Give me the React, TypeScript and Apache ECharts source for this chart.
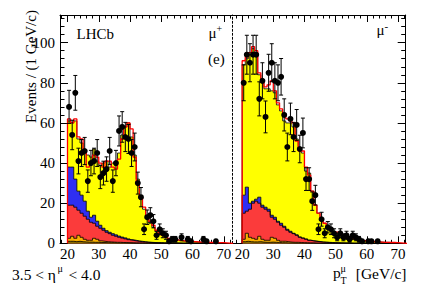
import React, { useEffect, useRef } from "react";
import * as echarts from "echarts";

const SERIF = "Liberation Serif, DejaVu Serif, serif";

// lower edges of the 1 GeV/c bins
const binLow = [20, 21, 22, 23, 24, 25, 26, 27, 28, 29, 30, 31, 32, 33, 34, 35, 36, 37, 38, 39, 40, 41, 42, 43, 44, 45, 46, 47, 48, 49, 50, 51, 52, 53, 54, 55, 56, 57, 58, 59, 60, 61, 62, 63, 64, 65, 66, 67, 68, 69];
const binWidth = 1;

// ---------- mu+ panel ----------
const muPlusData = [68, 54, 75, 41, 45, 46, 31, 40, 41, 45, 33, 35, 37, 46, 31, 40, 56, 58, 53, 52, 45, 48, 30, 23, 7, 13, 14, 11, 4, 7, 5, 4, 1, 2, 2, 0, 3, 0, 2, 1, 0, 0, 0, 2, 1, 0, 0, 1, 0, 0];
const muPlusTotal = [62, 60, 62, 53, 52, 46, 38, 40, 44, 43, 40, 38, 41, 41, 38, 37, 42, 52, 58, 60, 57, 43, 30, 23, 18, 13, 11, 9, 6.5, 5, 4, 3, 2.5, 2, 1.8, 1.5, 1.3, 1.1, 1, 0.9, 0.8, 0.7, 0.6, 0.5, 0.5, 0.4, 0.4, 0.3, 0.3, 0.3];
const muPlusYellow = [61, 60, 61, 52, 50, 45, 44, 43, 47, 41, 39, 40, 41, 38, 40, 39, 45, 54, 58, 60, 53, 44, 32, 22, 17, 13, 10, 8, 6, 5, 3.8, 3, 2.4, 2, 1.7, 1.5, 1.2, 1, 0.9, 0.8, 0.7, 0.6, 0.5, 0.5, 0.4, 0.4, 0.3, 0.3, 0.3, 0.2];
const muPlusBlue = [38, 38, 32, 26, 24, 21, 16, 13, 14, 11, 9, 7.5, 6.3, 5.5, 4.8, 4.2, 3.6, 3.1, 2.7, 2.2, 1.8, 1.5, 1.2, 1, 0.8, 0.6, 0.5, 0.4, 0.3, 0.3, 0.2, 0.2, 0.1, 0.1, 0.1, 0.1, 0, 0, 0, 0, 0, 0, 0, 0, 0, 0, 0, 0, 0, 0];
const muPlusRed = [19, 19, 18, 16.5, 15, 13.5, 12, 10.5, 10, 8.5, 7.5, 6.5, 5.5, 4.8, 4, 3.5, 3, 2.6, 2.2, 1.8, 1.5, 1.2, 1, 0.8, 0.6, 0.5, 0.4, 0.3, 0.3, 0.2, 0.2, 0.1, 0.1, 0.1, 0.1, 0, 0, 0, 0, 0, 0, 0, 0, 0, 0, 0, 0, 0, 0, 0];
const muPlusOrange = [2.5, 3.5, 2.5, 4, 3, 2, 1.5, 1.5, 2.5, 2, 1.2, 1, 0.8, 0.7, 0.6, 0.5, 0.5, 0.4, 0.4, 0.3, 0.3, 0.2, 0.2, 0.2, 0.1, 0.1, 0.1, 0, 0, 0, 0, 0, 0, 0, 0, 0, 0, 0, 0, 0, 0, 0, 0, 0, 0, 0, 0, 0, 0, 0];
const muPlusOlive = [1, 1, 0.8, 1, 0.8, 0.7, 0.6, 0.6, 0.5, 0.5, 0.4, 0.4, 0.3, 0.3, 0.3, 0.2, 0.2, 0.2, 0.1, 0.1, 0, 0, 0, 0, 0, 0, 0, 0, 0, 0, 0, 0, 0, 0, 0, 0, 0, 0, 0, 0, 0, 0, 0, 0, 0, 0, 0, 0, 0, 0];

// ---------- mu- panel ----------
const muMinusData = [80, 94, 90, 94, 94, 72, 81, 63, 85, 90, 81, 80, 83, 64, 48, 62, 53, 59, 47, 55, 32, 32, 21, 24, 7, 12, 5, 8, 7, 5, 3, 5, 3, 4, 2, 4, 3, 2, 1, 0, 1, 1, 0, 1, 0, 0, 0, 0, 0, 0];
const muMinusTotal = [91, 93, 95, 98, 96, 85, 81, 78, 79, 81, 76, 70, 67, 64, 62, 61, 60, 51, 46, 46, 38, 34, 26, 19, 15, 12, 10, 8, 7.5, 5.6, 5.6, 4, 4, 3, 2.8, 2.5, 2, 1.6, 1.4, 1.2, 1, 0.9, 0.8, 0.7, 0.6, 0.5, 0.5, 0.4, 0.4, 0.3];
const muMinusYellow = [89, 92, 94, 97, 94, 84, 80, 77, 77, 76, 75, 69, 66, 61, 60, 60, 58, 52, 47, 45, 36, 35, 26, 19, 15, 12, 10, 8, 7.5, 5.8, 5.2, 4.2, 3.8, 3, 2.6, 2.3, 1.9, 1.6, 1.4, 1.2, 1, 0.9, 0.8, 0.7, 0.6, 0.5, 0.5, 0.4, 0.4, 0.3];
const muMinusBlue = [24, 28, 20, 21, 22, 23, 19, 18, 17, 14, 13, 11, 10, 8.5, 7, 6, 5, 4.2, 3.2, 2.7, 2.2, 1.6, 1.3, 1.1, 0.9, 0.7, 0.6, 0.5, 0.4, 0.3, 0.3, 0.2, 0.2, 0.1, 0.1, 0, 0, 0, 0, 0, 0, 0, 0, 0, 0, 0, 0, 0, 0, 0];
const muMinusRed = [15, 16, 17, 20, 21, 20, 18, 17, 16, 13, 12, 10.5, 9, 8, 6.5, 5.5, 4.8, 4, 3, 2.5, 2, 1.5, 1.2, 1, 0.8, 0.6, 0.5, 0.4, 0.3, 0.3, 0.2, 0.2, 0.1, 0.1, 0, 0, 0, 0, 0, 0, 0, 0, 0, 0, 0, 0, 0, 0, 0, 0];
const muMinusOrange = [2, 5, 3, 2.5, 2, 3.5, 2, 1.5, 1.5, 3, 2.5, 1.5, 1, 1, 0.8, 0.6, 0.5, 0.5, 0.4, 0.3, 0.3, 0.2, 0.2, 0.1, 0.1, 0, 0, 0, 0, 0, 0, 0, 0, 0, 0, 0, 0, 0, 0, 0, 0, 0, 0, 0, 0, 0, 0, 0, 0, 0];
const muMinusOlive = [0.8, 1, 0.8, 0.7, 0.7, 0.8, 0.6, 0.5, 0.5, 0.6, 0.5, 0.4, 0.3, 0.3, 0.2, 0.2, 0.1, 0.1, 0.1, 0.1, 0, 0, 0, 0, 0, 0, 0, 0, 0, 0, 0, 0, 0, 0, 0, 0, 0, 0, 0, 0, 0, 0, 0, 0, 0, 0, 0, 0, 0, 0];

// ---------- axis ticks / labels ----------
const xLabels = [20, 30, 40, 50, 60, 70];
const xMinor = [18, 22, 24, 26, 28, 32, 34, 36, 38, 42, 44, 46, 48, 52, 54, 56, 58, 62, 64, 66, 68, 72];
const yLabels = [0, 20, 40, 60, 80, 100];
const yMinor = [4, 8, 12, 16, 24, 28, 32, 36, 44, 48, 52, 56, 64, 68, 72, 76, 84, 88, 92, 96, 104, 108, 112];
const fitTailEnd = 73;

const COLORS = {
  yellow: "#ffff00",
  blue: "#2f2ff2",
  red: "#fb3b3b",
  orange: "#f9b000",
  olive: "#8a6a00",
  fit: "#ff0000",
};

function stepData(vals: number[]) {
  const last = binLow[binLow.length - 1] + binWidth;
  const pts: number[][] = [[binLow[0], 0]];
  vals.forEach((v, i) => pts.push([binLow[i], v]));
  pts.push([last, vals[vals.length - 1]]);
  pts.push([last, 0]);
  return pts;
}

function areaSeries(vals: number[], color: string, xi: number, yi: number) {
  return {
    type: "line",
    xAxisIndex: xi,
    yAxisIndex: yi,
    data: stepData(vals),
    step: "end",
    symbol: "none",
    silent: true,
    lineStyle: { color: "#000", width: 0.8 },
    areaStyle: { color, opacity: 1 },
  };
}

function panelSeries(
  data: number[], total: number[], yellow: number[], blue: number[], red: number[], orange: number[], olive: number[],
  xi: number, yi: number
) {
  const pts = data
    .map((v, i) => (v > 0 ? [binLow[i] + binWidth / 2, v] : null))
    .filter((p) => p !== null);
  const fitPts = stepData(total);
  fitPts.push([fitTailEnd, 0]);
  return [
    areaSeries(yellow, COLORS.yellow, xi, yi),
    areaSeries(blue, COLORS.blue, xi, yi),
    areaSeries(red, COLORS.red, xi, yi),
    areaSeries(orange, COLORS.orange, xi, yi),
    areaSeries(olive, COLORS.olive, xi, yi),
    {
      type: "line",
      xAxisIndex: xi,
      yAxisIndex: yi,
      data: fitPts,
      step: "end",
      symbol: "none",
      silent: true,
      lineStyle: { color: COLORS.fit, width: 1.3 },
    },
    {
      type: "custom",
      xAxisIndex: xi,
      yAxisIndex: yi,
      data: pts,
      encode: { x: 0, y: 1 },
      silent: true,
      z: 10,
      renderItem: (_params: any, api: any) => {
        const x = api.value(0);
        const y = api.value(1);
        const e = Math.sqrt(y);
        const c = api.coord([x, y]);
        const lo = api.coord([x, Math.max(0, y - e)]);
        const hi = api.coord([x, y + e]);
        const st = { stroke: "#000", lineWidth: 1 };
        return {
          type: "group",
          children: [
            { type: "line", shape: { x1: c[0], y1: lo[1], x2: c[0], y2: hi[1] }, style: st },
            { type: "line", shape: { x1: c[0] - 2, y1: lo[1], x2: c[0] + 2, y2: lo[1] }, style: st },
            { type: "line", shape: { x1: c[0] - 2, y1: hi[1], x2: c[0] + 2, y2: hi[1] }, style: st },
            { type: "circle", shape: { cx: c[0], cy: c[1], r: 3 }, style: { fill: "#000" } },
          ],
        };
      },
    },
  ];
}

const line = { color: "#000", width: 1 };

function xAxesFor(gridIndex: number, min: number, max: number) {
  const base = { type: "value", gridIndex, min, max, splitLine: { show: false } };
  return [
    {
      ...base,
      position: "bottom",
      axisLine: { show: true, onZero: false, lineStyle: line },
      axisLabel: { show: true, customValues: xLabels, color: "#000", fontFamily: SERIF, fontSize: 15, margin: 3 },
      axisTick: { show: true, inside: true, length: 7, customValues: xLabels, lineStyle: line },
    },
    {
      ...base,
      position: "bottom",
      axisLine: { show: false, onZero: false },
      axisLabel: { show: false },
      axisTick: { show: true, inside: true, length: 3.5, customValues: xMinor, lineStyle: line },
    },
    {
      ...base,
      position: "top",
      axisLine: { show: true, onZero: false, lineStyle: line },
      axisLabel: { show: false },
      axisTick: { show: true, inside: true, length: 7, customValues: xLabels, lineStyle: line },
    },
    {
      ...base,
      position: "top",
      axisLine: { show: false, onZero: false },
      axisLabel: { show: false },
      axisTick: { show: true, inside: true, length: 3.5, customValues: xMinor, lineStyle: line },
    },
  ];
}

const Y_MAX = 113.8;

function yAxis(gridIndex: number, position: string, extra: any) {
  return {
    type: "value",
    gridIndex,
    position,
    min: 0,
    max: Y_MAX,
    splitLine: { show: false },
    axisLine: { show: false, onZero: false },
    axisLabel: { show: false },
    axisTick: { show: false },
    ...extra,
  };
}

const yAxes = [
  yAxis(0, "left", {
    axisLine: { show: true, onZero: false, lineStyle: line },
    axisLabel: { show: true, customValues: yLabels, color: "#000", fontFamily: SERIF, fontSize: 15, margin: 5 },
    axisTick: { show: true, inside: true, length: 8, customValues: yLabels, lineStyle: line },
  }),
  yAxis(0, "left", {
    axisTick: { show: true, inside: true, length: 4.5, customValues: yMinor, lineStyle: line },
  }),
  yAxis(1, "left", {
    axisLine: { show: true, onZero: false, lineStyle: { color: "#000", width: 1, type: [2, 2] } },
  }),
  yAxis(1, "right", {
    axisLine: { show: true, onZero: false, lineStyle: line },
    axisTick: { show: true, inside: true, length: 8, customValues: yLabels, lineStyle: line },
  }),
  yAxis(1, "right", {
    axisTick: { show: true, inside: true, length: 4.5, customValues: yMinor, lineStyle: line },
  }),
];

function txt(text: string, x: number, y: number, size: number, align = "left", extra: any = {}) {
  return {
    type: "text",
    x,
    y,
    silent: true,
    style: {
      text,
      fill: "#000",
      fontFamily: SERIF,
      fontSize: size,
      align,
      textAlign: align,
      verticalAlign: "middle",
      textVerticalAlign: "middle",
    },
    ...extra,
  };
}

const option = {
  animation: false,
  backgroundColor: "#fff",
  grid: [
    { left: 60, top: 15, width: 172.5, height: 228.3, outerBoundsMode: "none", containLabel: false },
    { left: 232.5, top: 15, width: 173.2, height: 228.3, outerBoundsMode: "none", containLabel: false },
  ],
  xAxis: [...xAxesFor(0, 17.6, 72.8), ...xAxesFor(1, 16.9, 72.5)],
  yAxis: yAxes,
  series: [
    ...panelSeries(muPlusData, muPlusTotal, muPlusYellow, muPlusBlue, muPlusRed, muPlusOrange, muPlusOlive, 0, 0),
    ...panelSeries(muMinusData, muMinusTotal, muMinusYellow, muMinusBlue, muMinusRed, muMinusOrange, muMinusOlive, 4, 3),
  ],
  graphic: [
    txt("Events / (1 GeV/c)", 30.5, 66.5, 15, "center", { rotation: Math.PI / 2 }),
    txt("LHCb", 76.5, 34, 15),
    txt("μ", 208.5, 32.5, 15),
    txt("+", 216.5, 28.5, 10),
    txt("(e)", 208, 59, 15),
    txt("μ", 376.5, 30, 15),
    txt("-", 384.5, 25.5, 11),
    txt("3.5 < η", 12, 274, 15.5),
    txt("μ", 57.5, 268.5, 10),
    txt("< 4.0", 100.5, 274, 15.5, "right"),
    txt("p", 333, 272, 15.5),
    txt("μ", 340.5, 268, 10),
    txt("T", 340.5, 280, 10),
    txt("[GeV/c]", 406.5, 273, 15.5, "right"),
  ],
};

export default function App() {
  const ref = useRef<HTMLDivElement>(null);
  useEffect(() => {
    if (!ref.current) return;
    const chart = echarts.init(ref.current, null, { renderer: "svg", width: 427, height: 290 });
    chart.setOption(option as any);
    return () => chart.dispose();
  }, []);
  return (
    <div
      ref={ref}
      style={{ position: "absolute", left: 0, top: 0, width: 427, height: 290, background: "#fff" }}
    />
  );
}
